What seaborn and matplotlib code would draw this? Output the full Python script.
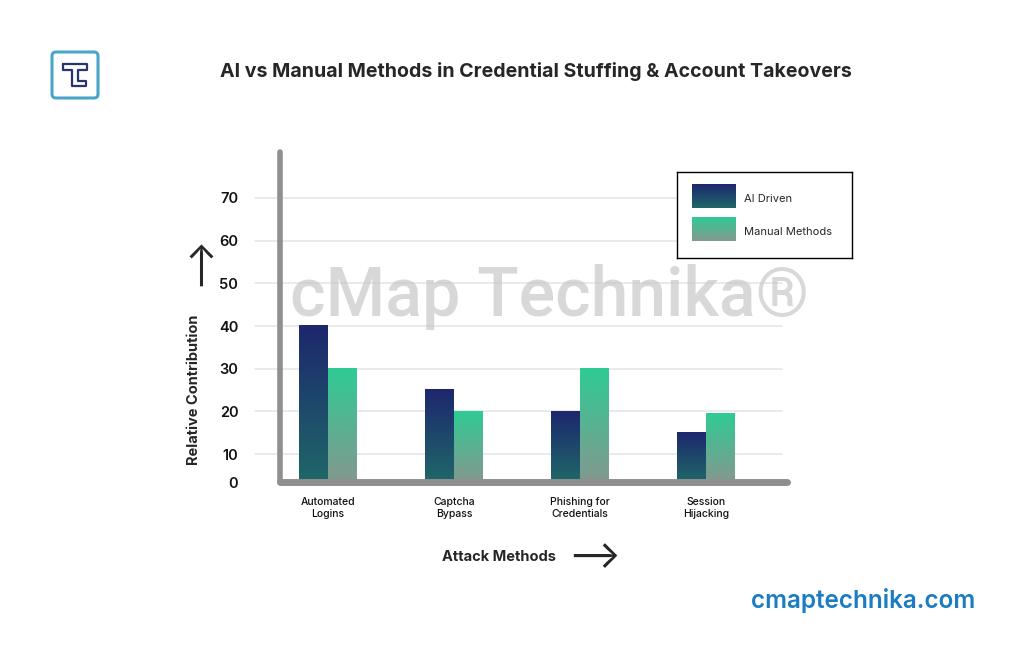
import numpy as np
import seaborn as sns
import matplotlib.pyplot as plt
import pandas as pd
from matplotlib.colors import LinearSegmentedColormap
from matplotlib.patches import FancyBboxPatch

# data
methods = ["Automated\nLogins", "Captcha\nBypass", "Phishing for\nCredentials", "Session\nHijacking"]
series = ["AI Driven", "Manual Methods"]
ai_driven = [40, 25, 20, 15]
manual = [30, 20, 30, 19.5]
y_ticks = [10, 20, 30, 40, 50, 60, 70]

dat = pd.DataFrame({
    "method": methods * 2,
    "series": [series[0]] * 4 + [series[1]] * 4,
    "value": ai_driven + manual,
})

# gradients: top colour -> bottom colour
grad = {
    series[0]: LinearSegmentedColormap.from_list("ai", ["#1d276e", "#1f6868"]),
    series[1]: LinearSegmentedColormap.from_list("man", ["#2fcb95", "#83988f"]),
}

sns.set_style("white")
plt.rcParams["font.family"] = ["Inter", "DejaVu Sans"]

fig = plt.figure(figsize=(10.31, 6.55), dpi=100)
ax = fig.add_axes([0.2716, 0.2641, 0.4918, 0.504])

sns.barplot(data=dat, x="method", y="value", hue="series", hue_order=series,
            palette=["#1d276e", "#2fcb95"], width=0.46, gap=0, ax=ax,
            legend=False, saturation=1, zorder=3)

ylo = 3.44
yhi = 80.8

# gradient fill for every bar
g = np.linspace(0, 1, 256).reshape(-1, 1)
for i, p in enumerate(ax.patches):
    s = series[0] if i < len(methods) else series[1]
    x0, w, h = p.get_x(), p.get_width(), p.get_height()
    if h <= 0:
        continue
    ax.imshow(g, cmap=grad[s], aspect="auto", extent=[x0, x0 + w, ylo, h],
              origin="upper", zorder=3)
    p.set_facecolor("none")
    p.set_edgecolor("none")
ax.set_xlim(-0.381, 3.643)
ax.set_ylim(ylo, yhi)

# grid lines that run past the y axis
for t in y_ticks:
    ax.plot([-0.05, 0.99], [t, t], transform=ax.get_yaxis_transform(),
            color="#e6e6e6", lw=1.2, zorder=0, clip_on=False)

for side in ["top", "right"]:
    ax.spines[side].set_visible(False)
ax.spines["left"].set_color("#8f8f8f")
ax.spines["left"].set_linewidth(4)
ax.spines["left"].set_capstyle("round")
ax.spines["bottom"].set_color("#8f8f8f")
ax.spines["bottom"].set_linewidth(5)
ax.spines["bottom"].set_capstyle("round")
ax.spines["left"].set_zorder(4)
ax.spines["bottom"].set_zorder(4)

ax.set_yticks([ylo] + y_ticks)
ax.set_yticklabels(["0"] + [str(t) for t in y_ticks], fontsize=10.5,
                   fontweight="semibold", color="#111111")
ax.tick_params(axis="y", length=0, pad=30)
ax.tick_params(axis="x", length=0, pad=11, labelsize=7.5, colors="#111111")
for lab in ax.get_xticklabels():
    lab.set_fontweight("medium")
ax.set_xlabel("")
ax.set_ylabel("")

# watermark
fig.text(0.533, 0.547, "cMap Technika®", fontsize=49, color="#c4c4c4",
         alpha=0.65, ha="center", va="center", fontweight="medium", zorder=0,
         family=["Roboto", "DejaVu Sans"])

# axis titles with arrows
fig.text(0.188, 0.405, "Relative Contribution", rotation=90, fontsize=10.5,
         fontweight="bold", ha="center", va="center")
fig.text(0.193, 0.602, "\u27f6", rotation=90, fontsize=27, ha="center", va="center")
fig.text(0.484, 0.149, "Attack Methods", fontsize=10.5, fontweight="bold",
         ha="center", va="center")
fig.text(0.576, 0.149, "\u27f6", fontsize=28, ha="center", va="center")

# title
fig.text(0.520, 0.891, "AI vs Manual Methods in Credential Stuffing & Account Takeovers",
         fontsize=14.1, fontweight="bold", ha="center", va="center")

# site name
fig.text(0.946, 0.083, "cmaptechnika.com", fontsize=17.5, fontweight="semibold",
         color="#1a7cc1", ha="right", va="center")

# legend box built by hand so the swatches can carry the gradient
lax = fig.add_axes([677 / 1031, 1 - 258 / 655, 175 / 1031, 86 / 655])
lax.set_xticks([])
lax.set_yticks([])
for sp in lax.spines.values():
    sp.set_color("black")
    sp.set_linewidth(1)
for k, s in enumerate(series):
    y0 = 12 + k * 33
    lax.imshow(g, cmap=grad[s], aspect="auto", extent=[15, 59, y0 + 24, y0], origin="upper")
    lax.text(67, y0 + 15, s, fontsize=8, va="center", ha="left")
lax.set_xlim(0, 175)
lax.set_ylim(86, 0)

# logo
lg = fig.add_axes([50 / 1031, 1 - 100 / 655, 50 / 1031, 50 / 655])
lg.set_xlim(0, 50)
lg.set_ylim(50, 0)
lg.axis("off")
lg.add_patch(FancyBboxPatch((2, 2), 46, 46, boxstyle="round,pad=0,rounding_size=4",
                            fill=False, ec="#4aa6c8", lw=2.2))
tx = [13, 37, 37, 28, 28, 36, 36, 22, 22, 13, 13]
ty = [14, 14, 20, 20, 31, 31, 36, 36, 20, 20, 14]
lg.plot(tx, ty, color="#2a3470", lw=1.6)

fig.savefig("out.png", dpi=100, facecolor="white")
